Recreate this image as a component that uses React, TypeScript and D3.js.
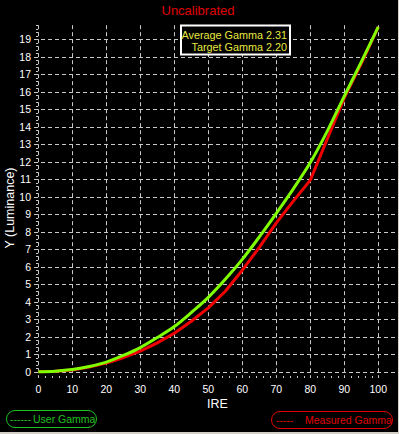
import React from "react";
import * as d3 from "d3";

const ire = [0, 5, 10, 15, 20, 25, 30, 35, 40, 45, 50, 55, 60, 65, 70, 75, 80, 85, 90, 95, 100];
const userGamma = [0, 0.03, 0.12, 0.3, 0.55, 0.93, 1.38, 1.95, 2.58, 3.38, 4.25, 5.28, 6.42, 7.7, 9.05, 10.45, 11.95, 13.75, 15.75, 17.7, 19.7];
const measuredGamma = [0, 0.02, 0.1, 0.27, 0.5, 0.8, 1.18, 1.65, 2.2, 2.88, 3.65, 4.6, 5.8, 7.1, 8.5, 9.75, 10.95, 13.3, 15.65, 17.6, 19.7];
const xTicks = [0, 10, 20, 30, 40, 50, 60, 70, 80, 90, 100];
const yTicks = d3.range(0, 20);
const title = "Uncalibrated";
const infoLines = ["Average Gamma 2.31", "Target Gamma 2.20"];

const W = 399;
const H = 434;
const FONT = "Arial, 'Liberation Sans', sans-serif";

export default function App() {
  const x = d3.scaleLinear().domain([0, 100]).range([38.3, 378.3]);
  const y = d3.scaleLinear().domain([0, 19]).range([371.7, 39.2]);
  const yTop = y(19.8);

  const xMinor = d3.range(0, 101, 2);
  const yMinor = d3.range(0, 19.81, 0.2);

  const greenPts: [number, number][] = ire.map((v, i) => [v, userGamma[i]]);
  const redPts: [number, number][] = ire.map((v, i) => [v, measuredGamma[i]]);
  const lineG = d3.line<[number, number]>().x(d => x(d[0])).y(d => y(d[1])).curve(d3.curveMonotoneX);
  const lineR = d3.line<[number, number]>().x(d => x(d[0])).y(d => y(d[1])).curve(d3.curveLinear);

  return (
    <svg width={W} height={H} style={{ position: "absolute", left: 0, top: 0, background: "#000" }} fontFamily={FONT}>
      <rect x={0} y={0} width={W} height={H} fill="#000" />
      <rect x={398} y={0} width={1} height={H} fill="#d4d0c8" />
      <rect x={0} y={432} width={W} height={2} fill="#d4d0c8" />

      {yTicks.map(t => (
        <line key={"h" + t} x1={34} x2={396} y1={Math.round(y(t)) + 0.5} y2={Math.round(y(t)) + 0.5}
          stroke="#c8c8c8" strokeWidth={1} strokeDasharray="4,3" />
      ))}
      {xTicks.map(t => (
        <line key={"v" + t} x1={Math.round(x(t)) + 0.5} x2={Math.round(x(t)) + 0.5} y1={yTop} y2={376}
          stroke="#c8c8c8" strokeWidth={1} strokeDasharray="4,3" />
      ))}
      {yMinor.map((t, i) => (
        <line key={"ym" + i} x1={36} x2={38} y1={Math.round(y(t)) + 0.5} y2={Math.round(y(t)) + 0.5}
          stroke="#c8c8c8" strokeWidth={1} />
      ))}
      {xMinor.map((t, i) => (
        <line key={"xm" + i} x1={Math.round(x(t)) + 0.5} x2={Math.round(x(t)) + 0.5} y1={376} y2={378}
          stroke="#c8c8c8" strokeWidth={1} />
      ))}

      {yTicks.map(t => (
        <text key={"yl" + t} x={31} y={y(t) + 4} textAnchor="end" fill="#fff" fontSize={10.5}>{t}</text>
      ))}
      {xTicks.map(t => (
        <text key={"xl" + t} x={x(t)} y={393} textAnchor="middle" fill="#fff" fontSize={10.5}>{t}</text>
      ))}

      <path d={lineR(redPts) || ""} fill="none" stroke="#f00000" strokeWidth={3} strokeLinejoin="round" />
      <path d={lineG(greenPts) || ""} fill="none" stroke="#80ff00" strokeWidth={3} strokeLinejoin="round" />

      <text x={198} y={15} textAnchor="middle" fill="#e00000" fontSize={13}>{title}</text>

      <rect x={181} y={25.5} width={109} height={29} fill="#000" stroke="#fff" strokeWidth={2} />
      <text x={287} y={38.5} textAnchor="end" fill="#e8e840" fontSize={10.8}>{infoLines[0]}</text>
      <text x={287} y={50.5} textAnchor="end" fill="#e8e840" fontSize={10.8}>{infoLines[1]}</text>

      <text x={207} y={408} fill="#fff" fontSize={12.5}>IRE</text>
      <text transform="translate(14,208) rotate(-90)" textAnchor="middle" fill="#fff" fontSize={12.5}>Y (Luminance)</text>

      <rect x={6.5} y={410.5} width={90} height={17} rx={8.5} ry={8.5} fill="none" stroke="#20c020" strokeWidth={1} />
      <text x={10} y={423} fill="#20c020" fontSize={10.5}>------</text>
      <text x={33} y={423} fill="#20c020" fontSize={10.5}>User Gamma</text>

      <rect x={271.5} y={411.5} width={121} height={17} rx={8.5} ry={8.5} fill="none" stroke="#e00000" strokeWidth={1} />
      <text x={276} y={424} fill="#e00000" fontSize={10.5}>-----</text>
      <text x={305} y={424} fill="#e00000" fontSize={10.5}>Measured Gamma</text>
    </svg>
  );
}
